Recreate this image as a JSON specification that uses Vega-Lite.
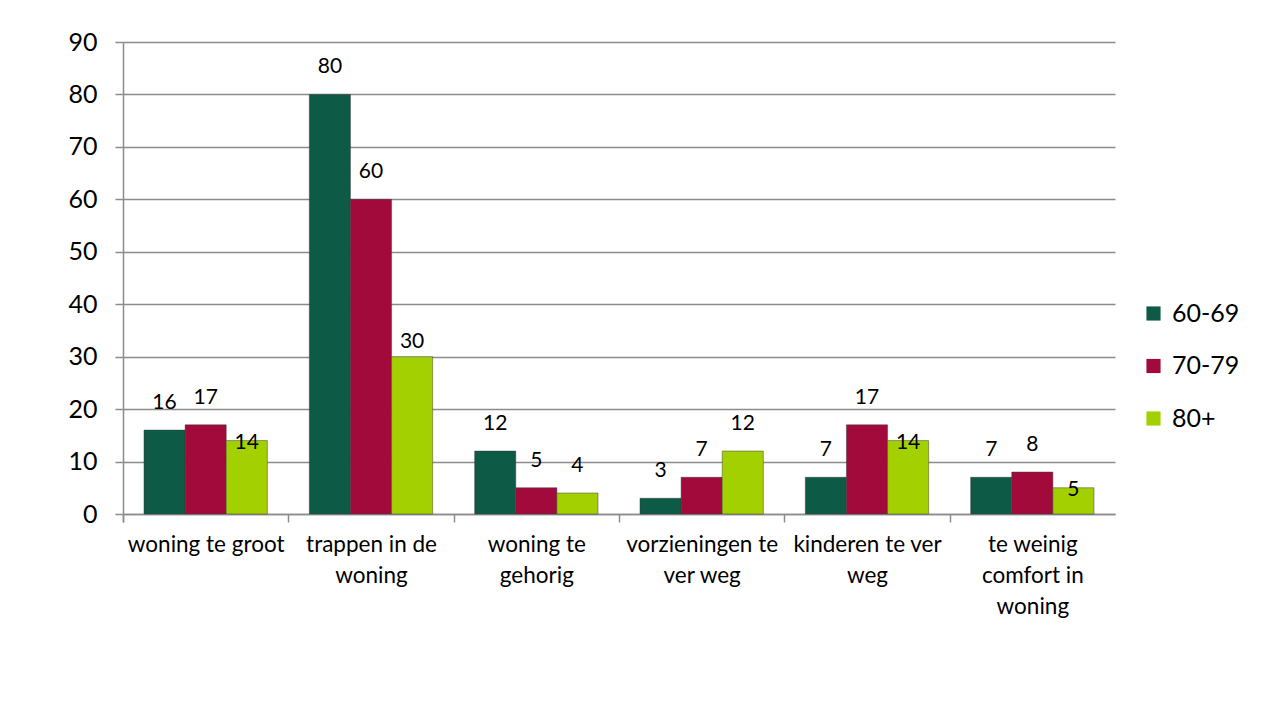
{
  "$schema": "https://vega.github.io/schema/vega-lite/v6.json",
  "autosize": "none",
  "padding": {"left": 123, "top": 42, "right": 149, "bottom": 193},
  "width": 992,
  "height": 472,
  "background": "white",
  "config": {
    "font": "Lato",
    "view": {"stroke": null},
    "axis": {"labelFont": "Lato", "labelColor": "#000000"}
  },
  "data": {
    "values": [
      {"cat": "woning te groot", "series": "60-69", "value": 16},
      {"cat": "woning te groot", "series": "70-79", "value": 17},
      {"cat": "woning te groot", "series": "80+", "value": 14},
      {"cat": "trappen in de woning", "series": "60-69", "value": 80},
      {"cat": "trappen in de woning", "series": "70-79", "value": 60},
      {"cat": "trappen in de woning", "series": "80+", "value": 30},
      {"cat": "woning te gehorig", "series": "60-69", "value": 12},
      {"cat": "woning te gehorig", "series": "70-79", "value": 5},
      {"cat": "woning te gehorig", "series": "80+", "value": 4},
      {"cat": "vorzieningen te ver weg", "series": "60-69", "value": 3},
      {"cat": "vorzieningen te ver weg", "series": "70-79", "value": 7},
      {"cat": "vorzieningen te ver weg", "series": "80+", "value": 12},
      {"cat": "kinderen te ver weg", "series": "60-69", "value": 7},
      {"cat": "kinderen te ver weg", "series": "70-79", "value": 17},
      {"cat": "kinderen te ver weg", "series": "80+", "value": 14},
      {"cat": "te weinig comfort in woning", "series": "60-69", "value": 7},
      {"cat": "te weinig comfort in woning", "series": "70-79", "value": 8},
      {"cat": "te weinig comfort in woning", "series": "80+", "value": 5}
    ]
  },
  "encoding": {
    "x": {
      "field": "cat",
      "type": "nominal",
      "sort": ["woning te groot", "trappen in de woning", "woning te gehorig", "vorzieningen te ver weg", "kinderen te ver weg", "te weinig comfort in woning"],
      "scale": {"paddingInner": 0.254, "paddingOuter": 0.127},
      "axis": {
        "title": null,
        "labelAngle": 0,
        "labelFontSize": 22.5,
        "labelPadding": 11,
        "labelLineHeight": 31,
        "labelBaseline": "top",
        "bandPosition": 0,
        "tickOffset": -21,
        "labelOffset": 21,
        "tickExtra": true,
        "tickSize": 8,
        "tickColor": "#8c8c8c",
        "tickWidth": 1.5,
        "domainColor": "#8c8c8c",
        "domainWidth": 1.5,
        "labelExpr": "datum.label == 'trappen in de woning' ? ['trappen in de', 'woning'] : datum.label == 'woning te gehorig' ? ['woning te', 'gehorig'] : datum.label == 'vorzieningen te ver weg' ? ['vorzieningen te', 'ver weg'] : datum.label == 'kinderen te ver weg' ? ['kinderen te ver', 'weg'] : datum.label == 'te weinig comfort in woning' ? ['te weinig', 'comfort in', 'woning'] : datum.label"
      }
    },
    "xOffset": {
      "field": "series",
      "type": "nominal",
      "sort": ["60-69", "70-79", "80+"]
    },
    "y": {
      "field": "value",
      "type": "quantitative",
      "scale": {"domain": [0, 90], "nice": false},
      "axis": {
        "title": null,
        "values": [0, 10, 20, 30, 40, 50, 60, 70, 80, 90],
        "labelFontSize": 25,
        "labelPadding": 18,
        "tickSize": 8,
        "tickColor": "#8c8c8c",
        "tickWidth": 1.5,
        "domainColor": "#8c8c8c",
        "domainWidth": 1.5,
        "gridColor": "#8c8c8c",
        "gridWidth": 1.5
      }
    }
  },
  "layer": [
    {
      "mark": {"type": "bar", "stroke": "#3a3a3a", "strokeWidth": 0.8, "strokeOpacity": 0.6},
      "encoding": {
        "color": {
          "field": "series",
          "type": "nominal",
          "sort": ["60-69", "70-79", "80+"],
          "scale": {"domain": ["60-69", "70-79", "80+"], "range": ["#0D5A47", "#A30A3C", "#A2D000"]},
          "legend": {
            "title": null,
            "orient": "none",
            "legendX": 1018,
            "legendY": 259,
            "symbolType": "square",
            "symbolSize": 200,
            "symbolStrokeWidth": 0,
            "labelFontSize": 25,
            "labelFont": "Lato",
            "labelColor": "#000000",
            "rowPadding": 26.5,
            "labelOffset": 6
          }
        }
      }
    },
    {
      "transform": [{"filter": "!(datum.series == '80+' && (datum.cat == 'woning te groot' || datum.cat == 'kinderen te ver weg' || datum.cat == 'te weinig comfort in woning' || datum.cat == 'trappen in de woning'))"}],
      "mark": {"type": "text", "baseline": "middle", "dy": -27, "fontSize": 21, "color": "#000000"},
      "encoding": {"text": {"field": "value", "type": "quantitative"}}
    },
    {
      "transform": [{"filter": "datum.series == '80+' && (datum.cat == 'woning te groot' || datum.cat == 'kinderen te ver weg' || datum.cat == 'te weinig comfort in woning')"}],
      "mark": {"type": "text", "baseline": "middle", "dy": 2, "fontSize": 21, "color": "#000000"},
      "encoding": {"text": {"field": "value", "type": "quantitative"}}
    },
    {
      "transform": [{"filter": "datum.series == '80+' && datum.cat == 'trappen in de woning'"}],
      "mark": {"type": "text", "baseline": "middle", "dy": -15, "fontSize": 21, "color": "#000000"},
      "encoding": {"text": {"field": "value", "type": "quantitative"}}
    }
  ]
}
